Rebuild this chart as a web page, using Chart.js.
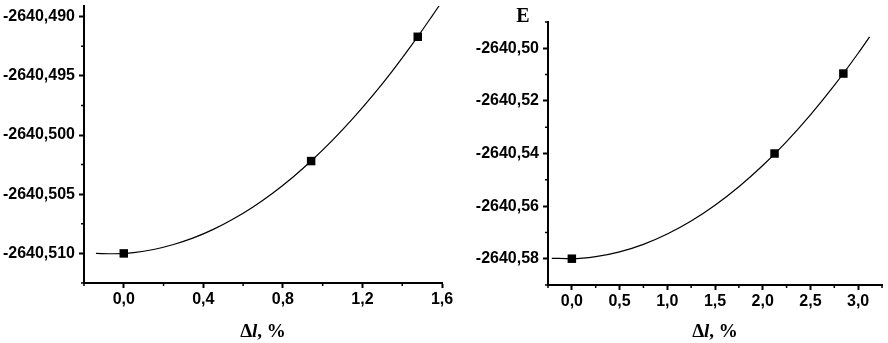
<!DOCTYPE html>
<html>
<head>
<meta charset="utf-8">
<script src="https://cdn.jsdelivr.net/npm/chart.js@4/dist/chart.umd.min.js"></script>
<style>
  html, body { margin: 0; padding: 0; background: #fff; }
  body { width: 888px; height: 343px; position: relative; overflow: hidden; }
  #wl { position: absolute; left: 0; top: 0; }
  #wr { position: absolute; left: 444px; top: 0; }
</style>
</head>
<body>
<div id="wl"><canvas id="cl" width="470" height="343"></canvas></div>
<div id="wr"><canvas id="cr" width="444" height="343"></canvas></div>
<script>
// ---------- Left panel data ----------
const leftX = [0.0, 0.942, 1.478];
const leftE = [-2640.5100, -2640.5022, -2640.4917];
const leftFitX = [-0.14, -0.05, 0.05, 0.15, 0.25, 0.35, 0.45, 0.55, 0.65, 0.75, 0.85, 0.95, 1.05, 1.15, 1.25, 1.35, 1.45, 1.55, 1.585];
const leftFitE = [-2640.51000, -2640.51003, -2640.50993, -2640.50967, -2640.50925, -2640.50869, -2640.50797, -2640.50709, -2640.50607, -2640.50489, -2640.50356, -2640.50207, -2640.50043, -2640.49864, -2640.49670, -2640.49460, -2640.49235, -2640.48995, -2640.48909];
const leftXTicks = [0.0, 0.4, 0.8, 1.2, 1.6];
const leftXMinor = [-0.2, 0.2, 0.6, 1.0, 1.4];
const leftYTicks = [-2640.490, -2640.495, -2640.500, -2640.505, -2640.510];
const leftYMinor = [-2640.4925, -2640.4975, -2640.5025, -2640.5075, -2640.5125];

// ---------- Right panel data ----------
const rightX = [0.0, 2.124, 2.845];
const rightE = [-2640.5800, -2640.5400, -2640.5096];
const rightFitX = [-0.21, 0.0, 0.25, 0.5, 0.75, 1.0, 1.25, 1.5, 1.75, 2.0, 2.25, 2.5, 2.75, 3.0, 3.12];
const rightFitE = [-2640.57985, -2640.58000, -2640.57922, -2640.57739, -2640.57453, -2640.57062, -2640.56567, -2640.55968, -2640.55265, -2640.54458, -2640.53547, -2640.52531, -2640.51412, -2640.50188, -2640.49564];
const rightXTicks = [0.0, 0.5, 1.0, 1.5, 2.0, 2.5, 3.0];
const rightXMinor = [-0.25, 0.25, 0.75, 1.25, 1.75, 2.25, 2.75, 3.25];
const rightYTicks = [-2640.50, -2640.52, -2640.54, -2640.56, -2640.58];
const rightYMinor = [-2640.49, -2640.51, -2640.53, -2640.55, -2640.57, -2640.59];

// axis title pieces: "Δ" + italic "l" + ", %"
const xTitleParts = [['Δ', false], ['l', true], [', %', false]];
const yTitleRight = 'E';

const tickFont = { family: '"Liberation Sans", Arial, sans-serif', size: 16, weight: 'bold' };
const serif = '"Liberation Serif", "Times New Roman", serif';

const decor = {
  id: 'decor',
  afterDraw(chart, args, opts) {
    const ctx = chart.ctx, x = chart.scales.x, y = chart.scales.y, a = chart.chartArea;
    ctx.save();
    ctx.strokeStyle = '#000';
    ctx.lineWidth = 1.5;
    ctx.beginPath();
    opts.xMinor.forEach(v => { const p = x.getPixelForValue(v); ctx.moveTo(p, a.bottom); ctx.lineTo(p, a.bottom + 3); });
    opts.yMinor.forEach(v => { const p = y.getPixelForValue(v); ctx.moveTo(a.left, p); ctx.lineTo(a.left - 3, p); });
    ctx.stroke();
    ctx.fillStyle = '#000';
    ctx.textBaseline = 'middle';
    // x axis title with italic l
    const fonts = xTitleParts.map(p => (p[1] ? 'italic bold 19px ' : 'bold 19px ') + serif);
    let total = 0;
    const widths = xTitleParts.map((p, i) => { ctx.font = fonts[i]; const w = ctx.measureText(p[0]).width; total += w; return w; });
    let cx = (a.left + a.right) / 2 - total / 2;
    ctx.textAlign = 'left';
    xTitleParts.forEach((p, i) => { ctx.font = fonts[i]; ctx.fillText(p[0], cx, 332); cx += widths[i]; });
    if (opts.yLabel) {
      ctx.font = 'bold 20px ' + serif;
      ctx.textAlign = 'center';
      ctx.fillText(opts.yLabel, opts.yLabelX, opts.yLabelY);
    }
    ctx.restore();
  }
};

function makeChart(id, cfg) {
  const fitW = cfg.yWidth, fitH = cfg.xHeight;
  return new Chart(document.getElementById(id), {
    type: 'scatter',
    data: {
      datasets: [
        {
          data: cfg.px.map((v, i) => ({ x: v, y: cfg.py[i] })),
          showLine: false,
          pointStyle: 'rect',
          pointRadius: 6,
          backgroundColor: '#000',
          borderColor: '#000',
          borderWidth: 0,
          order: 0
        },
        {
          data: cfg.fx.map((v, i) => ({ x: v, y: cfg.fy[i] })),
          showLine: true,
          pointRadius: 0,
          borderColor: '#000',
          borderWidth: 1.2,
          cubicInterpolationMode: 'monotone',
          fill: false,
          order: 1
        }
      ]
    },
    options: {
      responsive: false,
      animation: false,
      devicePixelRatio: 1,
      layout: { padding: cfg.padding },
      plugins: {
        legend: { display: false },
        tooltip: { enabled: false },
        decor: { xMinor: cfg.xMinor, yMinor: cfg.yMinor, yLabel: cfg.yLabel, yLabelX: cfg.yLabelX, yLabelY: cfg.yLabelY }
      },
      scales: {
        x: {
          type: 'linear',
          min: cfg.xmin, max: cfg.xmax,
          afterBuildTicks: s => { s.ticks = cfg.xTicks.map(v => ({ value: v })); },
          afterFit: s => { s.height = fitH; s.paddingLeft = 0; s.paddingRight = 0; },
          ticks: {
            color: '#000', font: tickFont, padding: 2, maxRotation: 0, autoSkip: false,
            callback: v => Number(v).toFixed(1).replace('.', ',')
          },
          grid: { drawOnChartArea: false, drawTicks: true, tickLength: 5, tickWidth: 2, tickColor: '#000' },
          border: { display: true, color: '#000', width: 2 }
        },
        y: {
          type: 'linear',
          min: cfg.ymin, max: cfg.ymax,
          afterBuildTicks: s => { s.ticks = cfg.yTicks.map(v => ({ value: v })); },
          afterFit: s => { s.width = fitW; s.paddingTop = 0; s.paddingBottom = 0; },
          ticks: {
            color: '#000', font: tickFont, padding: 4, autoSkip: false,
            callback: v => Number(v).toFixed(cfg.yDec).replace('.', ',')
          },
          grid: { drawOnChartArea: false, drawTicks: true, tickLength: 5, tickWidth: 2, tickColor: '#000' },
          border: { display: true, color: '#000', width: 2 }
        }
      }
    },
    plugins: [decor]
  });
}

makeChart('cl', {
  px: leftX, py: leftE, fx: leftFitX, fy: leftFitE,
  xTicks: leftXTicks, xMinor: leftXMinor, yTicks: leftYTicks, yMinor: leftYMinor,
  xmin: -0.2, xmax: 1.6, ymin: -2640.5125, ymax: -2640.4891, yDec: 3,
  yWidth: 84, xHeight: 60, padding: { top: 5, right: 28, left: 0, bottom: 0 }
});

makeChart('cr', {
  px: rightX, py: rightE, fx: rightFitX, fy: rightFitE,
  xTicks: rightXTicks, xMinor: rightXMinor, yTicks: rightYTicks, yMinor: rightYMinor,
  xmin: -0.25, xmax: 3.25, ymin: -2640.59, ymax: -2640.49, yDec: 2,
  yWidth: 104, xHeight: 58, padding: { top: 22, right: 0, left: 0, bottom: 0 },
  yLabel: yTitleRight, yLabelX: 79, yLabelY: 17
});
</script>
</body>
</html>
